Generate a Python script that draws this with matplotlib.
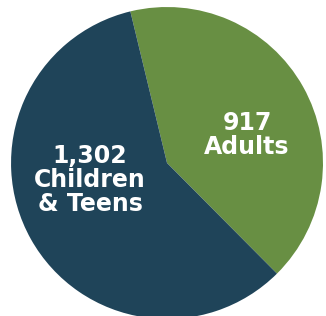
import matplotlib
matplotlib.use('Agg')
import matplotlib.pyplot as plt

# values
labels = ['917\nAdults', '1,302\nChildren\n& Teens']
counts = [917, 1302]
colors = ['#688f43', '#1f4459']

fig = plt.figure(figsize=(3.26, 3.16), dpi=100)
ax = fig.add_axes([0, 0, 1, 1])
ax.pie(counts, colors=colors, startangle=103.6, counterclock=False,
       radius=1.0, wedgeprops=dict(linewidth=0))
ax.set_xlim(-1.0705, 1.019)
ax.set_ylim(-0.981, 1.045)
ax.set_aspect('equal')
ax.axis('off')

txt = dict(color='white', fontweight='heavy', fontsize=17, ha='center',
           va='center', family='DejaVu Sans', linespacing=1.0)
ax.text(0.513, 0.18, labels[0], **txt)
ax.text(-0.494, -0.109, labels[1], **txt)

fig.savefig('out.png', dpi=100, facecolor='white')
